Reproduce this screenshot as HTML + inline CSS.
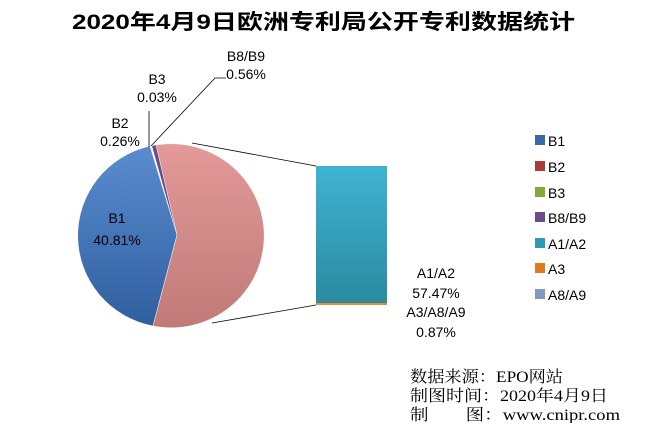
<!DOCTYPE html>
<html><head><meta charset="utf-8"><style>
body{margin:0;background:#fff;width:650px;height:423px;overflow:hidden}
</style></head><body>
<svg width="650" height="423" xmlns="http://www.w3.org/2000/svg" style="font-family:'Liberation Sans','Noto Sans CJK SC',sans-serif">
<defs>
<linearGradient id="gb" x1="0" y1="0" x2="0" y2="1"><stop offset="0" stop-color="#5a8cd0"/><stop offset="1" stop-color="#2f5f9e"/></linearGradient>
<linearGradient id="gp" x1="0" y1="0" x2="0" y2="1"><stop offset="0" stop-color="#e39a98"/><stop offset="1" stop-color="#c07a77"/></linearGradient>
<linearGradient id="gt" x1="0" y1="0" x2="0" y2="1"><stop offset="0" stop-color="#3fb3d2"/><stop offset="1" stop-color="#2a8aa0"/></linearGradient>
</defs>
<text x="72" y="29" textLength="503" lengthAdjust="spacingAndGlyphs" font-size="21" font-weight="bold" fill="#000">2020年4月9日欧洲专利局公开专利数据统计</text>
<path d="M177,235 L153,326 A93,92 0 0 1 150,146 Z" fill="url(#gb)" stroke="#fff" stroke-width="0.5"/>
<path d="M177,235 L152,146 L156,145 Z" fill="#6a4c8c"/>
<path d="M177,235 L156,145 A93,92 0 1 1 153,326 Z" fill="url(#gp)" stroke="#fff" stroke-width="0.5"/>
<line x1="192" y1="143" x2="316" y2="166" stroke="#000" stroke-width="0.8"/>
<line x1="212" y1="323" x2="316" y2="305" stroke="#000" stroke-width="0.8"/>
<rect x="316" y="166" width="71" height="138" fill="url(#gt)"/>
<rect x="316" y="303" width="71" height="2" fill="#f08a2c"/>
<line x1="149" y1="147" x2="149" y2="111" stroke="#000" stroke-width="0.8"/>
<polyline points="151,146 215,78 226,78" fill="none" stroke="#000" stroke-width="0.8"/>
<g font-size="14" fill="#000" text-anchor="middle">
<text x="246" y="61">B8/B9</text><text x="246" y="79">0.56%</text>
<text x="157" y="84">B3</text><text x="157" y="102">0.03%</text>
<text x="120" y="128">B2</text><text x="120" y="146">0.26%</text>
<text x="117" y="223">B1</text><text x="117" y="245">40.81%</text>
<text x="436" y="278">A1/A2</text><text x="436" y="298">57.47%</text>
<text x="436" y="317">A3/A8/A9</text><text x="436" y="337">0.87%</text>
</g>
<g font-size="14" fill="#000">
<rect x="535" y="135" width="10" height="10" fill="#3a68a8"/><text x="548" y="146">B1</text>
<rect x="535" y="161" width="10" height="10" fill="#a83a38"/><text x="548" y="172">B2</text>
<rect x="535" y="187" width="10" height="10" fill="#86a83a"/><text x="548" y="198">B3</text>
<rect x="535" y="212" width="10" height="10" fill="#6a4c8c"/><text x="548" y="223">B8/B9</text>
<rect x="535" y="238" width="10" height="10" fill="#2e9ab5"/><text x="548" y="249">A1/A2</text>
<rect x="535" y="263" width="10" height="10" fill="#e07a22"/><text x="548" y="274">A3</text>
<rect x="535" y="289" width="10" height="10" fill="#8496c4"/><text x="548" y="300">A8/A9</text>
</g>
<g font-size="16" fill="#000" style="font-family:'Liberation Serif','Noto Serif CJK SC',serif">
<text x="410" y="382" textLength="153" lengthAdjust="spacingAndGlyphs">数据来源：EPO网站</text>
<text x="410" y="401" textLength="198" lengthAdjust="spacingAndGlyphs">制图时间：2020年4月9日</text>
<text x="410" y="420" textLength="210" lengthAdjust="spacingAndGlyphs">制　　图：www.cnipr.com</text>
</g>
</svg>
</body></html>
